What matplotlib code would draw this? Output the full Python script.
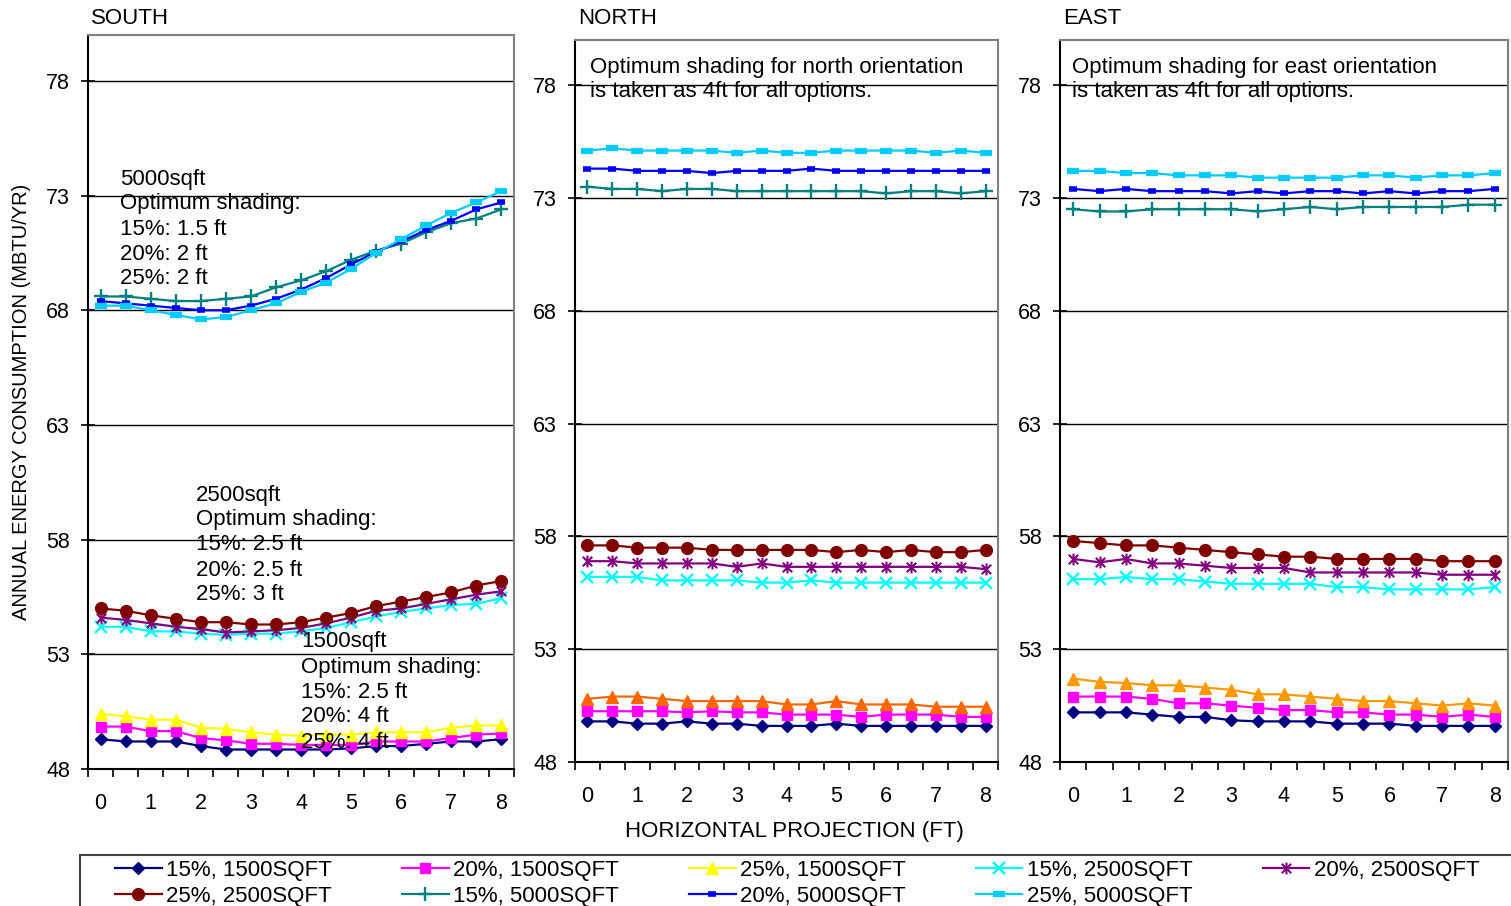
import matplotlib
matplotlib.use("Agg")
import matplotlib.pyplot as plt
from matplotlib.path import Path
from matplotlib.patches import Rectangle

plt.rcParams["font.family"] = ["Liberation Sans", "DejaVu Sans"]

# Horizontal projection (ft), one value per category
projection = [0.0, 0.5, 1.0, 1.5, 2.0, 2.5, 3.0, 3.5, 4.0,
              4.5, 5.0, 5.5, 6.0, 6.5, 7.0, 7.5, 8.0]
x_tick_labels = ["0", "1", "2", "3", "4", "5", "6", "7", "8"]
y_ticks = [48, 53, 58, 63, 68, 73, 78]

series_labels = ["15%, 1500SQFT", "20%, 1500SQFT", "25%, 1500SQFT",
                 "15%, 2500SQFT", "20%, 2500SQFT", "25%, 2500SQFT",
                 "15%, 5000SQFT", "20%, 5000SQFT", "25%, 5000SQFT"]

# ---- SOUTH (MBTU/yr) ----
south_15_1500 = [49.3, 49.2, 49.2, 49.2, 49.0, 48.85, 48.85, 48.85, 48.85,
                 48.85, 48.9, 49.0, 49.0, 49.1, 49.2, 49.2, 49.3]
south_20_1500 = [49.85, 49.85, 49.65, 49.65, 49.35, 49.25, 49.1, 49.1, 49.05,
                 49.05, 49.05, 49.2, 49.2, 49.2, 49.35, 49.5, 49.55]
south_25_1500 = [50.4, 50.3, 50.15, 50.15, 49.8, 49.75, 49.6, 49.5, 49.45,
                 49.5, 49.5, 49.6, 49.6, 49.6, 49.8, 49.9, 49.9]
south_15_2500 = [54.2, 54.2, 54.0, 54.0, 53.9, 53.85, 53.9, 53.9, 54.0,
                 54.15, 54.4, 54.65, 54.85, 55.0, 55.15, 55.2, 55.45]
south_20_2500 = [54.6, 54.5, 54.35, 54.2, 54.1, 53.95, 54.0, 54.05, 54.15,
                 54.35, 54.6, 54.9, 55.0, 55.2, 55.4, 55.6, 55.75]
south_25_2500 = [55.0, 54.9, 54.7, 54.55, 54.4, 54.4, 54.3, 54.3, 54.4,
                 54.6, 54.8, 55.1, 55.3, 55.5, 55.7, 56.0, 56.2]
south_15_5000 = [68.6, 68.6, 68.5, 68.4, 68.4, 68.5, 68.6, 69.0, 69.3,
                 69.7, 70.2, 70.6, 70.9, 71.4, 71.8, 72.0, 72.4]
south_20_5000 = [68.4, 68.3, 68.2, 68.1, 68.0, 68.0, 68.2, 68.5, 68.9,
                 69.4, 70.0, 70.55, 71.0, 71.5, 71.9, 72.4, 72.7]
south_25_5000 = [68.2, 68.2, 68.0, 67.8, 67.6, 67.7, 68.0, 68.3, 68.8,
                 69.2, 69.8, 70.5, 71.1, 71.7, 72.25, 72.7, 73.2]

# ---- NORTH (MBTU/yr) ----
north_15_1500 = [49.8, 49.8, 49.7, 49.7, 49.8, 49.7, 49.7, 49.6, 49.6,
                 49.6, 49.7, 49.6, 49.6, 49.6, 49.6, 49.6, 49.6]
north_20_1500 = [50.25, 50.25, 50.25, 50.25, 50.2, 50.25, 50.2, 50.2, 50.1,
                 50.1, 50.1, 50.0, 50.1, 50.1, 50.1, 50.0, 50.0]
north_25_1500 = [50.8, 50.9, 50.9, 50.8, 50.7, 50.7, 50.7, 50.7, 50.55,
                 50.55, 50.7, 50.55, 50.55, 50.55, 50.45, 50.45, 50.45]
north_15_2500 = [56.2, 56.2, 56.2, 56.05, 56.05, 56.05, 56.05, 55.95, 55.95,
                 56.05, 55.95, 55.95, 55.95, 55.95, 55.95, 55.95, 55.95]
north_20_2500 = [56.9, 56.9, 56.8, 56.8, 56.8, 56.8, 56.65, 56.8, 56.65,
                 56.65, 56.65, 56.65, 56.65, 56.65, 56.65, 56.65, 56.55]
north_25_2500 = [57.6, 57.6, 57.5, 57.5, 57.5, 57.4, 57.4, 57.4, 57.4,
                 57.4, 57.3, 57.4, 57.3, 57.4, 57.3, 57.3, 57.4]
north_15_5000 = [73.5, 73.4, 73.4, 73.3, 73.4, 73.4, 73.3, 73.3, 73.3,
                 73.3, 73.3, 73.3, 73.2, 73.3, 73.3, 73.2, 73.3]
north_20_5000 = [74.3, 74.3, 74.2, 74.2, 74.2, 74.1, 74.2, 74.2, 74.2,
                 74.3, 74.2, 74.2, 74.2, 74.2, 74.2, 74.2, 74.2]
north_25_5000 = [75.1, 75.2, 75.1, 75.1, 75.1, 75.1, 75.0, 75.1, 75.0,
                 75.0, 75.1, 75.1, 75.1, 75.1, 75.0, 75.1, 75.0]

# ---- EAST (MBTU/yr) ----
east_15_1500 = [50.2, 50.2, 50.2, 50.1, 50.0, 50.0, 49.85, 49.8, 49.8,
                49.8, 49.7, 49.7, 49.7, 49.6, 49.6, 49.6, 49.6]
east_20_1500 = [50.9, 50.9, 50.9, 50.8, 50.6, 50.6, 50.5, 50.4, 50.3,
                50.3, 50.2, 50.2, 50.1, 50.1, 50.0, 50.1, 50.0]
east_25_1500 = [51.7, 51.55, 51.5, 51.4, 51.4, 51.3, 51.2, 51.0, 51.0,
                50.9, 50.8, 50.7, 50.7, 50.6, 50.5, 50.6, 50.5]
east_15_2500 = [56.1, 56.1, 56.2, 56.1, 56.1, 56.0, 55.9, 55.9, 55.9,
                55.9, 55.75, 55.75, 55.65, 55.65, 55.65, 55.65, 55.75]
east_20_2500 = [57.0, 56.85, 57.0, 56.8, 56.8, 56.7, 56.6, 56.6, 56.6,
                56.4, 56.4, 56.4, 56.4, 56.4, 56.3, 56.3, 56.3]
east_25_2500 = [57.8, 57.7, 57.6, 57.6, 57.5, 57.4, 57.3, 57.2, 57.1,
                57.1, 57.0, 57.0, 57.0, 57.0, 56.9, 56.9, 56.9]
east_15_5000 = [72.5, 72.4, 72.4, 72.5, 72.5, 72.5, 72.5, 72.4, 72.5,
                72.6, 72.5, 72.6, 72.6, 72.6, 72.6, 72.7, 72.7]
east_20_5000 = [73.4, 73.3, 73.4, 73.3, 73.3, 73.3, 73.2, 73.3, 73.2,
                73.3, 73.3, 73.2, 73.3, 73.2, 73.3, 73.3, 73.4]
east_25_5000 = [74.2, 74.2, 74.1, 74.1, 74.0, 74.0, 74.0, 73.9, 73.9,
                73.9, 73.9, 74.0, 74.0, 73.9, 74.0, 74.0, 74.1]

# Excel-style asterisk: vertical bar plus an X
star = Path([(0, -1), (0, 1), (-0.8, -0.8), (0.8, 0.8), (-0.8, 0.8), (0.8, -0.8)],
            [Path.MOVETO, Path.LINETO] * 3)


def styles(tri_color):
    return [
        dict(color="#000080", marker="D", ms=6.5, mfc="#000080", mec="#000080"),
        dict(color="#FF00FF", marker="s", ms=7, mfc="#FF00FF", mec="#FF00FF"),
        dict(color=tri_color, marker="^", ms=8.5, mfc=tri_color, mec=tri_color),
        dict(color="#00FFFF", marker="x", ms=8, mew=1.7),
        dict(color="#800080", marker=star, ms=8.5, mew=1.5),
        dict(color="#800000", marker="o", ms=8.5, mfc="#800000", mec="#800000"),
        dict(color="#008080", marker="+", ms=9.5, mew=1.7),
        dict(color="#0000FF", marker="_", ms=6, mew=4),
        dict(color="#00CCFF", marker="_", ms=9, mew=4.5),
    ]


W, H = 1511, 906
fig = plt.figure(figsize=(W / 100, H / 100), dpi=100)


def fx(x):
    return x / W


def fy(y):
    return 1 - y / H


panels = [
    ("SOUTH", (88, 35, 514, 769), "#FFFF00",
     [south_15_1500, south_20_1500, south_25_1500, south_15_2500, south_20_2500,
      south_25_2500, south_15_5000, south_20_5000, south_25_5000]),
    ("NORTH", (575, 40, 998, 762), "#FF6600",
     [north_15_1500, north_20_1500, north_25_1500, north_15_2500, north_20_2500,
      north_25_2500, north_15_5000, north_20_5000, north_25_5000]),
    ("EAST", (1060, 40, 1508, 762), "#FF9900",
     [east_15_1500, east_20_1500, east_25_1500, east_15_2500, east_20_2500,
      east_25_2500, east_15_5000, east_20_5000, east_25_5000]),
]

FS = 15.5
TS = 16
axes = []
legend_handles = None
for title, (x0, y0, x1, y1), tri, data in panels:
    ax = fig.add_axes([fx(x0), fy(y1), (x1 - x0) / W, (y1 - y0) / H])
    axes.append(ax)
    handles = []
    for vals, st in zip(data, styles(tri)):
        (ln,) = ax.plot(projection, vals, lw=1.6, zorder=3, **st)
        handles.append(ln)
    if legend_handles is None:
        legend_handles = handles
    ax.set_xlim(-0.25, 8.25)
    ax.set_ylim(48, 80)
    ax.set_yticks(y_ticks)
    ax.set_yticklabels([str(v) for v in y_ticks])
    ax.set_xticks(range(9))
    ax.set_xticklabels(x_tick_labels)
    ax.set_xticks([-0.25 + 0.5 * k for k in range(18)], minor=True)
    ax.tick_params(axis="x", which="major", length=0, pad=17, labelsize=FS)
    ax.tick_params(axis="x", which="minor", length=6, width=1.2, direction="out",
                   color="black")
    ax.tick_params(axis="y", which="major", length=10, width=1.2, direction="inout",
                   pad=8, labelsize=FS, color="black")
    ax.grid(axis="y", color="black", lw=1.0, zorder=1)
    for s in ("top", "right"):
        ax.spines[s].set_color("#808080")
        ax.spines[s].set_linewidth(1.5)
    for s in ("left", "bottom"):
        ax.spines[s].set_color("black")
        ax.spines[s].set_linewidth(1.5)
    fig.text(fx(x0 + 3), fy(19), title, fontsize=TS, ha="left", va="center")

# Optimum shading notes
south_notes = [
    (120, 179, ["5000sqft", "Optimum shading:", "15%: 1.5 ft", "20%: 2 ft", "25%: 2 ft"]),
    (196, 495, ["2500sqft", "Optimum shading:", "15%: 2.5 ft", "20%: 2.5 ft", "25%: 3 ft"]),
    (301, 642, ["1500sqft", "Optimum shading:", "15%: 2.5 ft", "20%: 4 ft", "25%: 4 ft"]),
]
for x, y, lines in south_notes:
    for i, line in enumerate(lines):
        fig.text(fx(x), fy(y + 25 * i), line, fontsize=TS, ha="left", va="center")

for x, word in ((590, "north"), (1072, "east")):
    fig.text(fx(x), fy(67), "Optimum shading for %s orientation" % word,
             fontsize=TS, ha="left", va="center")
    fig.text(fx(x), fy(92), "is taken as 4ft for all options.",
             fontsize=TS, ha="left", va="center")

fig.text(fx(22), fy(402), "ANNUAL ENERGY CONSUMPTION (MBTU/YR)", rotation=90,
         fontsize=14.5, ha="center", va="center")
fig.text(fx(794), fy(831), "HORIZONTAL PROJECTION (FT)", fontsize=TS,
         ha="center", va="center")

# Legend box, running off the lower right edge of the figure
fig.patches.append(Rectangle((fx(80), fy(940)), (1560 - 80) / W, (940 - 855) / H,
                             transform=fig.transFigure, fill=False,
                             edgecolor="#404040", lw=1.5))

# Legend laid out row by row (matplotlib fills columns first)
order = [0, 5, 1, 6, 2, 7, 3, 8, 4]
leg = fig.legend([legend_handles[i] for i in order], [series_labels[i] for i in order],
                 ncol=5, loc="upper left", bbox_to_anchor=(fx(115), fy(860)),
                 frameon=False, fontsize=TS, handlelength=2.1,
                 handletextpad=0.2, columnspacing=3.15, borderaxespad=0,
                 borderpad=0.0, labelspacing=0.22)

fig.savefig("out.png", dpi=100)
